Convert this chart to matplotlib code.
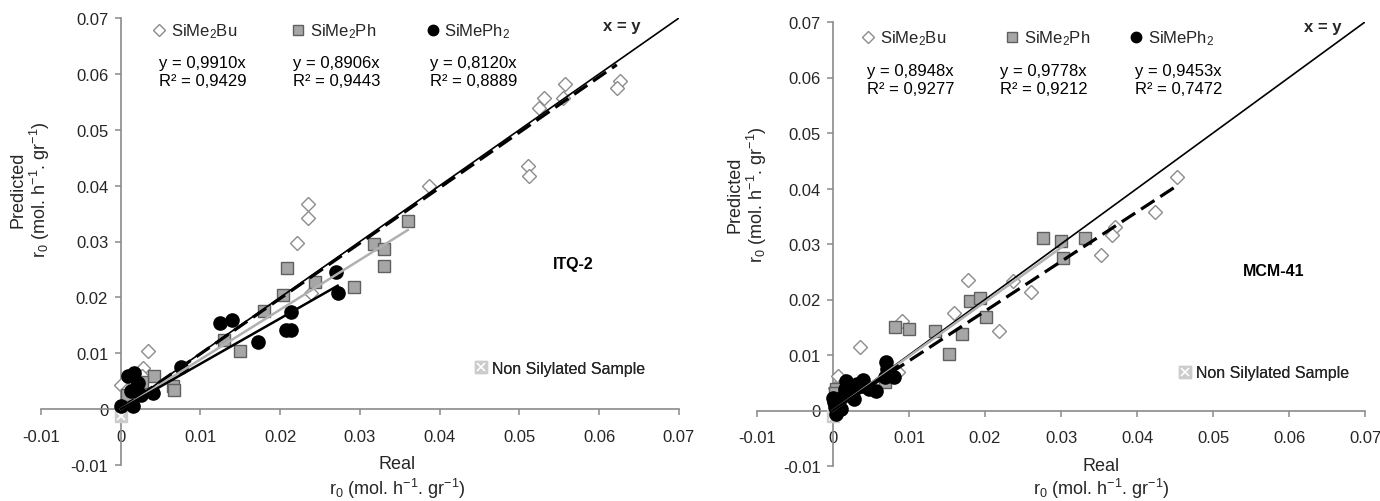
import matplotlib
matplotlib.use("Agg")
import matplotlib.pyplot as plt
import numpy as np
from matplotlib.lines import Line2D
from matplotlib.legend_handler import HandlerTuple

plt.rcParams["font.family"] = ["Liberation Sans", "DejaVu Sans"]
plt.rcParams["mathtext.fontset"] = "custom"
plt.rcParams["mathtext.rm"] = "Liberation Sans"
plt.rcParams["mathtext.it"] = "Liberation Sans:italic"
plt.rcParams["mathtext.bf"] = "Liberation Sans:bold"

# series names and axis ticks
series_names = ["SiMe$_2$Bu", "SiMe$_2$Ph", "SiMePh$_2$"]
tick_values = [-0.01, 0, 0.01, 0.02, 0.03, 0.04, 0.05, 0.06, 0.07]
tick_labels = ["-0.01", "0", "0.01", "0.02", "0.03", "0.04", "0.05", "0.06", "0.07"]

# ITQ-2 (left panel)
itq_bu_x = [0.0626, 0.0622, 0.0557, 0.0554, 0.0531, 0.0524, 0.0511, 0.0512, 0.0387, 0.0235,
            0.0235, 0.0221, 0.0239, 0.0034, 0.0028, 0.0027, 0.0000, 0.0008]
itq_bu_y = [0.0588, 0.0574, 0.0582, 0.0557, 0.0557, 0.0539, 0.0436, 0.0418, 0.0399, 0.0368,
            0.0342, 0.0298, 0.0208, 0.0104, 0.0073, 0.0060, 0.0043, 0.0035]
itq_ph_x = [0.0318, 0.0330, 0.0330, 0.0360, 0.0209, 0.0244, 0.0204, 0.0292, 0.0180, 0.0129,
            0.0149, 0.0042, 0.0066, 0.0067, 0.0013, 0.0008, 0.0027]
itq_ph_y = [0.0296, 0.0286, 0.0256, 0.0336, 0.0252, 0.0228, 0.0205, 0.0218, 0.0175, 0.0123,
            0.0104, 0.0059, 0.0041, 0.0034, 0.0011, 0.0025, 0.0048]
itq_ph2_x = [0.0270, 0.0272, 0.0214, 0.0207, 0.0214, 0.0172, 0.0124, 0.0139, 0.0076, 0.0041,
             0.0009, 0.0017, 0.0022, 0.0026, 0.0013, 0.0000, 0.0015, 0.0019]
itq_ph2_y = [0.0246, 0.0208, 0.0174, 0.0141, 0.0141, 0.0121, 0.0154, 0.0160, 0.0075, 0.0029,
             0.0059, 0.0064, 0.0046, 0.0025, 0.0032, 0.0005, 0.0005, 0.0037]
itq_non_x = [0.0]
itq_non_y = [-0.0012]
itq_slope = [0.9910, 0.8906, 0.8120]
itq_r2 = [0.9429, 0.9443, 0.8889]
itq_fit_xmax = [0.0622, 0.0360, 0.0272]

# MCM-41 (right panel)
mcm_bu_x = [0.0452, 0.0424, 0.0371, 0.0367, 0.0352, 0.0237, 0.0177, 0.0261, 0.0219, 0.0159,
            0.0091, 0.0035, 0.0086, 0.0007, 0.0016, 0.0003]
mcm_bu_y = [0.0420, 0.0357, 0.0330, 0.0317, 0.0280, 0.0234, 0.0236, 0.0214, 0.0144, 0.0175,
            0.0162, 0.0115, 0.0070, 0.0062, 0.0054, 0.0040]
mcm_ph_x = [0.0276, 0.0300, 0.0331, 0.0302, 0.0180, 0.0194, 0.0201, 0.0081, 0.0100, 0.0134,
            0.0170, 0.0153, 0.0069, 0.0004, 0.0003]
mcm_ph_y = [0.0311, 0.0306, 0.0310, 0.0275, 0.0197, 0.0203, 0.0168, 0.0150, 0.0146, 0.0144,
            0.0137, 0.0101, 0.0052, 0.0038, 0.0031]
mcm_ph2_x = [0.0070, 0.0071, 0.0080, 0.0068, 0.0056, 0.0048, 0.0040, 0.0032, 0.0024, 0.0027,
             0.0016, 0.0013, 0.0001, 0.0002, 0.0004, 0.0010, 0.0000, 0.0017, 0.0039]
mcm_ph2_y = [0.0087, 0.0075, 0.0060, 0.0060, 0.0035, 0.0039, 0.0055, 0.0048, 0.0033, 0.0021,
             0.0039, 0.0027, 0.0015, 0.0006, -0.0006, 0.0003, 0.0022, 0.0054, 0.0045]
mcm_non_x = [0.0]
mcm_non_y = [-0.0010]
mcm_slope = [0.8948, 0.9778, 0.9453]
mcm_r2 = [0.9277, 0.9212, 0.7472]
mcm_fit_xmax = [0.0455, 0.0305, 0.0085]

SPINE = "#8a8a8a"
TXT = "#262626"

fig = plt.figure(figsize=(13.8, 5.02), dpi=100)
W, H = 1380, 502


def px_axes(l, t, r, b):
    return fig.add_axes([l / W, (H - b) / H, (r - l) / W, (b - t) / H])


def fig_text(x, y, s, **kw):
    fig.text(x / W, 1 - y / H, s, ha="center", va="center", color=TXT, **kw)


def style_axes(ax):
    ax.set_xlim(-0.01, 0.07)
    ax.set_ylim(-0.01, 0.07)
    for side in ["top", "right"]:
        ax.spines[side].set_visible(False)
    for side in ["left", "bottom"]:
        ax.spines[side].set_position(("data", 0))
        ax.spines[side].set_color(SPINE)
        ax.spines[side].set_linewidth(1.2)
    ax.set_xticks(tick_values, tick_labels)
    ax.set_yticks(tick_values, tick_labels)
    ax.tick_params(direction="out", length=4, width=1.1, color=SPINE,
                   labelsize=12, labelcolor=TXT)
    ax.tick_params(axis="x", pad=10)
    ax.tick_params(axis="y", pad=5)
    ax.patch.set_alpha(0)


def key(ax, handle, label, x, y, fs=12):
    leg = ax.legend([handle], [label], loc="center left", bbox_to_anchor=(x, y),
                    bbox_transform=ax.transData, frameon=False, handlelength=0.7,
                    handletextpad=0.35, borderpad=0, borderaxespad=0, fontsize=fs,
                    handler_map={tuple: HandlerTuple(ndivide=1)})
    for t in leg.get_texts():
        t.set_color(TXT)
    ax.add_artist(leg)


# marker styles
bu_kw = dict(ls="none", marker="D", ms=7.5, mfc="white", mec="#8c8c8c", mew=1.0)
ph_kw = dict(ls="none", marker="s", ms=9, mfc="#a6a6a6", mec="#606060", mew=1.0)
ph2_kw = dict(ls="none", marker="o", ms=9.5, mfc="black", mec="black", mew=1.0)
non_sq = dict(ls="none", marker="s", ms=9, mfc="#cccccc", mec="#cccccc")
non_x = dict(ls="none", marker="x", ms=6, mec="white", mew=1.3)

fit_styles = [
    dict(color="black", lw=2.3, dashes=(5, 2.2)),
    dict(color="#b0b0b0", lw=1.8),
    dict(color="black", lw=1.8),
]

panels = [
    dict(box=(41, 19, 679, 466), name="ITQ-2",
         pts=[(itq_bu_x, itq_bu_y), (itq_ph_x, itq_ph_y), (itq_ph2_x, itq_ph2_y)],
         non=(itq_non_x, itq_non_y), slope=itq_slope, r2=itq_r2, xmax=itq_fit_xmax,
         key_x=[0.0041, 0.0215, 0.0384], key_y=0.0677,
         eq_x=[0.0048, 0.0216, 0.0388], eq_y=(0.0621, 0.0589),
         xy_lab=(0.0628, 0.0686), name_xy=(0.0567, 0.0261), non_key=(0.0445, 0.0073),
         ylab=(31, 190), xlab=(397, 465, 489)),
    dict(box=(757, 23, 1365, 467), name="MCM-41",
         pts=[(mcm_bu_x, mcm_bu_y), (mcm_ph_x, mcm_ph_y), (mcm_ph2_x, mcm_ph2_y)],
         non=(mcm_non_x, mcm_non_y), slope=mcm_slope, r2=mcm_r2, xmax=mcm_fit_xmax,
         key_x=[0.0039, 0.0228, 0.0391], key_y=0.0671,
         eq_x=[0.0045, 0.0220, 0.0397], eq_y=(0.0612, 0.0581),
         xy_lab=(0.0645, 0.0692), name_xy=(0.0580, 0.0252), non_key=(0.0456, 0.0068),
         ylab=(748, 195), xlab=(1101, 467, 489)),
]

for p in panels:
    ax = px_axes(*p["box"])
    style_axes(ax)

    (bx, by), (sx, sy), (cx, cy) = p["pts"]
    ax.plot(bx, by, **bu_kw, zorder=3)
    ax.plot(sx, sy, **ph_kw, zorder=4)
    ax.plot(cx, cy, **ph2_kw, zorder=5)
    ax.plot(*p["non"], **non_sq, zorder=4)
    ax.plot(*p["non"], **non_x, zorder=4)

    # x = y reference line
    diag = np.array([0, 0.07])
    ax.plot(diag, diag, color="black", lw=1.2, zorder=6)

    # fitted lines through origin
    for s, xm, st in zip(p["slope"], p["xmax"], fit_styles):
        xs = np.array([0, xm])
        ax.plot(xs, s * xs, zorder=7, **st)

    # series keys and equations
    key_handles = [
        Line2D([], [], ls="none", marker="D", ms=6, mfc="white", mec="#8c8c8c", mew=1.0),
        Line2D([], [], ls="none", marker="s", ms=7.5, mfc="#a6a6a6", mec="#606060", mew=1.0),
        Line2D([], [], ls="none", marker="o", ms=7.5, mfc="black", mec="black"),
    ]
    for h, name, kx, ex, s, r2 in zip(key_handles, series_names, p["key_x"],
                                      p["eq_x"], p["slope"], p["r2"]):
        key(ax, h, name, kx, p["key_y"])
        ax.text(ex, p["eq_y"][0], f"y = {s:.4f}x".replace(".", ","), fontsize=12,
                ha="left", va="center", color="black")
        ax.text(ex, p["eq_y"][1], f"R² = {r2:.4f}".replace(".", ","), fontsize=12,
                ha="left", va="center", color="black")

    non_handle = (Line2D([], [], ls="none", marker="s", ms=8, mfc="#cccccc", mec="#cccccc"),
                  Line2D([], [], ls="none", marker="x", ms=5.5, mec="white", mew=1.2))
    key(ax, non_handle, "Non Silylated Sample", *p["non_key"], fs=11.5)

    ax.text(*p["xy_lab"], "x = y", fontsize=12, fontweight="bold", ha="center",
            va="center", color=TXT)
    ax.text(*p["name_xy"], p["name"], fontsize=11.5, fontweight="bold", ha="center",
            va="center", color="black")

    # axis titles
    yx, yy = p["ylab"]
    fig_text(yx, yy, "Predicted\nr$_0$ (mol. h$^{-1}$. gr$^{-1}$)", fontsize=13,
             rotation=90, linespacing=1.1, multialignment="center")
    lx, ly1, ly2 = p["xlab"]
    fig_text(lx, ly1, "Real", fontsize=13)
    fig_text(lx, ly2, "r$_0$ (mol. h$^{-1}$. gr$^{-1}$)", fontsize=13)

fig.savefig("out.png", dpi=100)
